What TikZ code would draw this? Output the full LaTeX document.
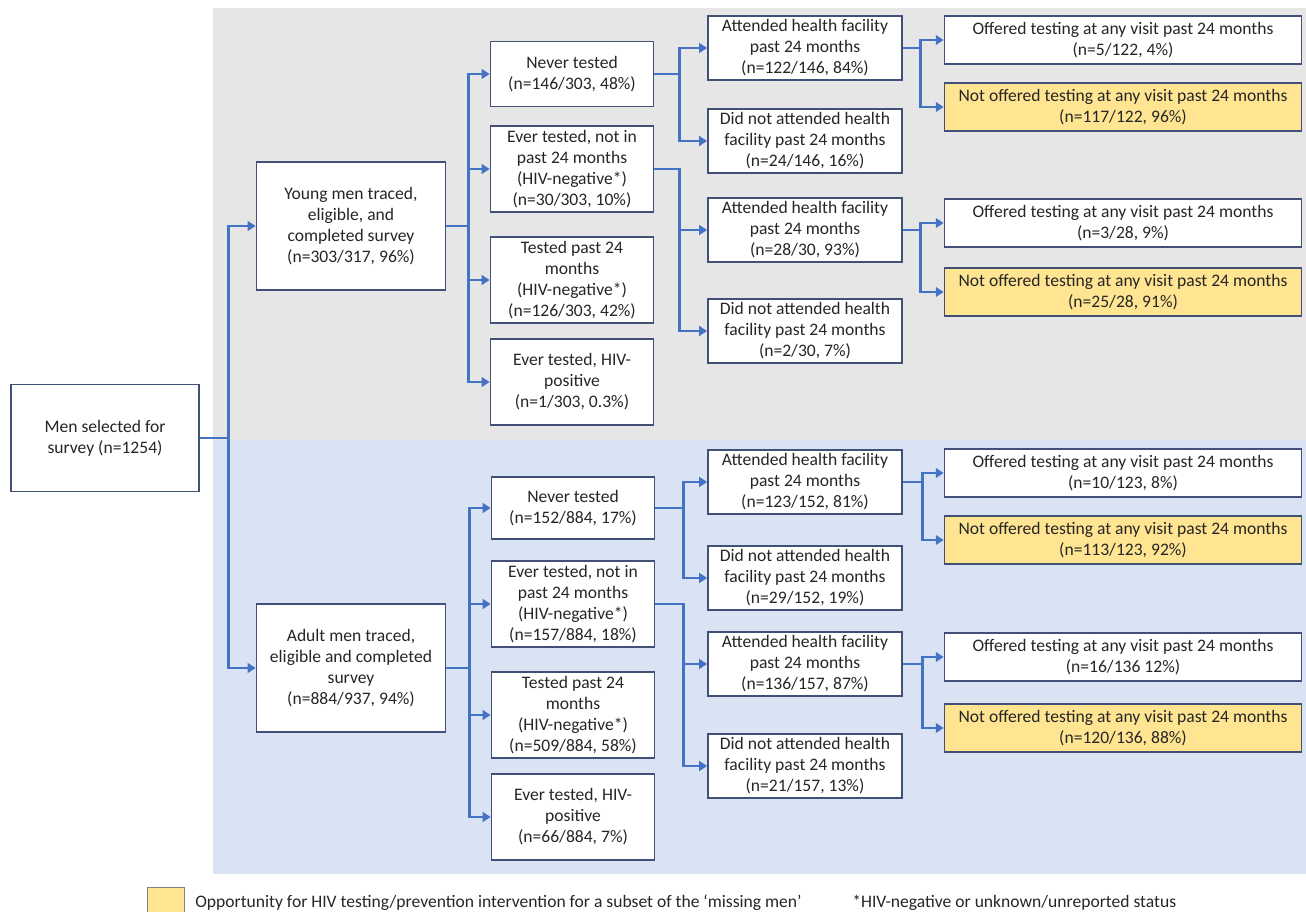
\documentclass[tikz,border=0pt]{standalone}
\usepackage{fontspec}
\setmainfont{Carlito}
\usepackage{xcolor}
\usetikzlibrary{arrows.meta}
\definecolor{bgGray}{RGB}{231,230,230}
\definecolor{bgBlue}{RGB}{218,227,243}
\definecolor{boxLine}{RGB}{66,80,120}
\definecolor{arrBlue}{RGB}{68,114,196}
\definecolor{optYellow}{RGB}{255,228,145}

\begin{document}
\begin{tikzpicture}[x=0.02cm,y=-0.02cm,
box/.style={draw=boxLine,line width=1pt,fill=white,inner sep=0pt,align=center,text=black!85,font=\fontsize{10}{12}\selectfont},
opp/.style={box,fill=optYellow},
start/.style={minimum width=3.76cm,minimum height=2.14cm},
group/.style={minimum width=3.78cm,minimum height=2.55cm},
status/.style={minimum width=3.26cm,minimum height=1.72cm},
visit/.style={minimum width=3.88cm,minimum height=1.28cm},
offer/.style={minimum width=7.14cm,minimum height=0.96cm},
link/.style={draw=arrBlue,line width=1.6pt,-{Triangle[length=4.5pt,width=5.5pt]}}
]
\useasboundingbox (0,0) rectangle (1306,912);
\fill[bgGray] (213,8) rectangle (1306,440);
\fill[bgBlue] (213,440) rectangle (1306,874);

\node[box,start] (men) at (105,438) {Men selected for\\survey (n=1254)};
\node[box,group] (young) at (351,226) {Young men traced,\\eligible, and\\completed survey\\(n=303/317, 96\%)};
\node[box,group] (adult) at (351,668) {Adult men traced,\\eligible and completed\\survey\\(n=884/937, 94\%)};

\node[box,status,minimum height=1.3cm] (yNever) at (572,74) {Never tested\\(n=146/303, 48\%)};
\node[box,status] (yLapsed) at (572,169) {Ever tested, not in\\past 24 months\\(HIV-negative*)\\(n=30/303, 10\%)};
\node[box,status] (yRecent) at (572,280) {Tested past 24\\months\\(HIV-negative*)\\(n=126/303, 42\%)};
\node[box,status] (yPos) at (572,382) {Ever tested, HIV-\\positive\\(n=1/303, 0.3\%)};
\node[box,status,minimum height=1.24cm] (aNever) at (573,508) {Never tested\\(n=152/884, 17\%)};
\node[box,status] (aLapsed) at (573,604) {Ever tested, not in\\past 24 months\\(HIV-negative*)\\(n=157/884, 18\%)};
\node[box,status] (aRecent) at (573,715) {Tested past 24\\months\\(HIV-negative*)\\(n=509/884, 58\%)};
\node[box,status] (aPos) at (573,817) {Ever tested, HIV-\\positive\\(n=66/884, 7\%)};

\node[box,visit] (yNeverAtt) at (805,48) {Attended health facility\\past 24 months\\(n=122/146, 84\%)};
\node[box,visit] (yNeverNo) at (805,141) {Did not attended health\\facility past 24 months\\(n=24/146, 16\%)};
\node[box,visit] (yLapsedAtt) at (805,230) {Attended health facility\\past 24 months\\(n=28/30, 93\%)};
\node[box,visit] (yLapsedNo) at (805,331) {Did not attended health\\facility past 24 months\\(n=2/30, 7\%)};
\node[box,visit] (aNeverAtt) at (805,482) {Attended health facility\\past 24 months\\(n=123/152, 81\%)};
\node[box,visit] (aNeverNo) at (805,578) {Did not attended health\\facility past 24 months\\(n=29/152, 19\%)};
\node[box,visit] (aLapsedAtt) at (805,664) {Attended health facility\\past 24 months\\(n=136/157, 87\%)};
\node[box,visit] (aLapsedNo) at (805,766) {Did not attended health\\facility past 24 months\\(n=21/157, 13\%)};

\node[box,offer] (yNeverOff) at (1123,40) {Offered testing at any visit past 24 months\\(n=5/122, 4\%)};
\node[opp,offer] (yNeverMiss) at (1123,107) {Not offered testing at any visit past 24 months\\(n=117/122, 96\%)};
\node[box,offer] (yLapsedOff) at (1123,223) {Offered testing at any visit past 24 months\\(n=3/28, 9\%)};
\node[opp,offer] (yLapsedMiss) at (1123,292) {Not offered testing at any visit past 24 months\\(n=25/28, 91\%)};
\node[box,offer] (aNeverOff) at (1123,473) {Offered testing at any visit past 24 months\\(n=10/123, 8\%)};
\node[opp,offer] (aNeverMiss) at (1123,540) {Not offered testing at any visit past 24 months\\(n=113/123, 92\%)};
\node[box,offer] (aLapsedOff) at (1123,657) {Offered testing at any visit past 24 months\\(n=16/136 12\%)};
\node[opp,offer] (aLapsedMiss) at (1123,728) {Not offered testing at any visit past 24 months\\(n=120/136, 88\%)};

\foreach \t in {young,adult} \draw[link] (men.east) -- ++(29,0) |- (\t.west);
\foreach \t in {yNever,yLapsed,yRecent,yPos} \draw[link] (young.east) -- ++(22,0) |- (\t.west);
\foreach \t in {aNever,aLapsed,aRecent,aPos} \draw[link] (adult.east) -- ++(23,0) |- (\t.west);
\foreach \s in {Never,Lapsed} {
  \foreach \t in {Att,No} {
    \draw[link] (y\s.east) -- ++(25,0) |- (y\s\t.west);
    \draw[link] (a\s.east) -- ++(28,0) |- (a\s\t.west);
  }
  \foreach \t in {Off,Miss} {
    \draw[link] (y\s Att.east) -- ++(18,0) |- (y\s\t.west);
    \draw[link] (a\s Att.east) -- ++(20,0) |- (a\s\t.west);
  }
}

\fill[optYellow,draw=gray] (147,887) rectangle (184,914);
\node[anchor=west,inner sep=0pt,text=black!85,font=\fontsize{10}{12}\selectfont] (keyText) at (195,903) {Opportunity for HIV testing/prevention intervention for a subset of the `missing men'};
\node[anchor=west,inner sep=0pt,text=black!85,font=\fontsize{10}{12}\selectfont] (note) at (852,903) {*HIV-negative or unknown/unreported status};
\end{tikzpicture}
\end{document}
